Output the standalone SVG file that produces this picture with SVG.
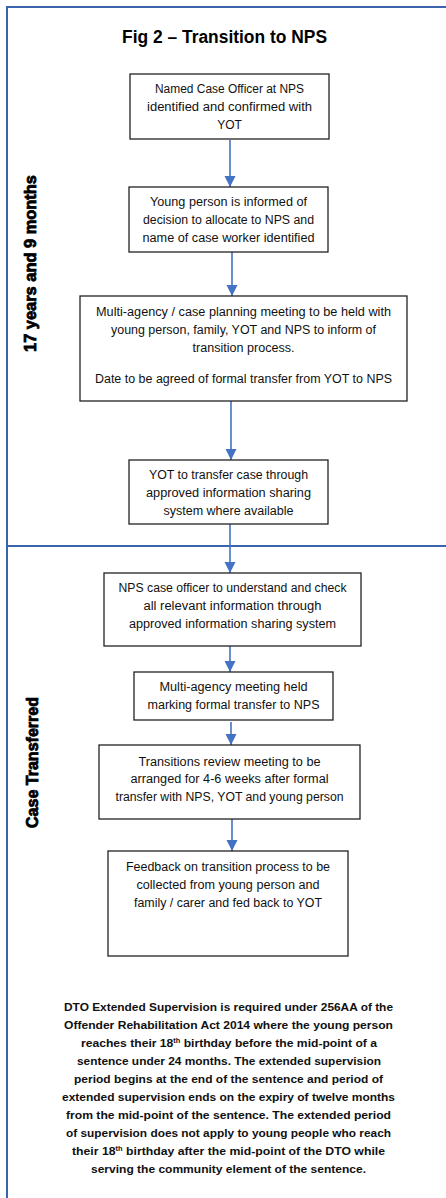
<svg xmlns="http://www.w3.org/2000/svg" width="446" height="1198" viewBox="0 0 446 1198">
<style>
.frame{stroke:#3B64AD;stroke-width:2;fill:none}
.box{fill:#fff;stroke:#222;stroke-width:1.3}
.t{font-family:"Liberation Sans",Arial,sans-serif;font-size:12px;fill:#111;text-anchor:middle}
.note{font-family:"Liberation Sans",Arial,sans-serif;font-size:11.5px;font-weight:bold;fill:#111;text-anchor:middle}
.title{font-family:"Liberation Sans",Arial,sans-serif;font-size:18px;font-weight:bold;fill:#000;text-anchor:middle}
.side{font-family:"Liberation Sans",Arial,sans-serif;font-size:17px;font-weight:bold;fill:#000;stroke:#000;stroke-width:0.8;text-anchor:middle}
.arr{stroke:#4472C4;stroke-width:1.6;fill:none;marker-end:url(#ah)}
</style>
<defs>
<marker id="ah" markerUnits="userSpaceOnUse" markerWidth="12" markerHeight="12" viewBox="0 0 12 12" refX="11" refY="6" orient="auto">
<path d="M0,0.5 L11,6 L0,11.5 Z" fill="#4472C4"/>
</marker>
</defs>
<rect width="446" height="1198" fill="#fff"/>
<g id="frame">
<path class="frame" d="M446,7 L7,7 L7,1198"/>
<path class="frame" d="M7,546 L446,546"/>
</g>
<g id="title"><text class="title" x="224.5" y="43" textLength="205" lengthAdjust="spacingAndGlyphs">Fig 2 – Transition to NPS</text></g>
<g id="label-17">
<text class="side" transform="translate(36,263.5) rotate(-90)" textLength="177" lengthAdjust="spacingAndGlyphs">17 years and 9 months</text>
</g>
<g id="label-case">
<text class="side" transform="translate(37.5,762.5) rotate(-90)" textLength="131" lengthAdjust="spacingAndGlyphs">Case Transferred</text>
</g>
<g id="connectors">
<line class="arr" x1="230" y1="140" x2="230" y2="187"/>
<line class="arr" x1="232" y1="252" x2="232" y2="296"/>
<line class="arr" x1="231" y1="401" x2="231" y2="460"/>
<line class="arr" x1="230" y1="524" x2="230" y2="573"/>
<line class="arr" x1="230" y1="646" x2="230" y2="672"/>
<line class="arr" x1="231" y1="722" x2="231" y2="745"/>
<line class="arr" x1="232" y1="819" x2="232" y2="851"/>
</g>
<g id="n1">
<rect class="box" x="130" y="74" width="199" height="65"/>
<text class="t" x="229.5" y="93" textLength="149" lengthAdjust="spacingAndGlyphs">Named Case Officer at NPS</text>
<text class="t" x="229.5" y="111" textLength="165" lengthAdjust="spacingAndGlyphs">identified and confirmed with</text>
<text class="t" x="229.5" y="129">YOT</text>
</g>
<g id="n2">
<rect class="box" x="129" y="187" width="199" height="65"/>
<text class="t" x="228.5" y="206" textLength="157" lengthAdjust="spacingAndGlyphs">Young person is informed of</text>
<text class="t" x="228.5" y="224" textLength="171" lengthAdjust="spacingAndGlyphs">decision to allocate to NPS and</text>
<text class="t" x="228.5" y="242" textLength="172" lengthAdjust="spacingAndGlyphs">name of case worker identified</text>
</g>
<g id="n3">
<rect class="box" x="80" y="296" width="327" height="105"/>
<text class="t" x="243.5" y="316" textLength="295" lengthAdjust="spacingAndGlyphs">Multi-agency / case planning meeting to be held with</text>
<text class="t" x="243.5" y="334" textLength="265" lengthAdjust="spacingAndGlyphs">young person, family, YOT and NPS to inform of</text>
<text class="t" x="243.5" y="352" textLength="102" lengthAdjust="spacingAndGlyphs">transition process.</text>
<text class="t" x="243.5" y="383" textLength="297" lengthAdjust="spacingAndGlyphs">Date to be agreed of formal transfer from YOT to NPS</text>
</g>
<g id="n4">
<rect class="box" x="129" y="460" width="199" height="64"/>
<text class="t" x="228.5" y="479" textLength="159" lengthAdjust="spacingAndGlyphs">YOT to transfer case through</text>
<text class="t" x="228.5" y="497" textLength="165" lengthAdjust="spacingAndGlyphs">approved information sharing</text>
<text class="t" x="228.5" y="515" textLength="130" lengthAdjust="spacingAndGlyphs">system where available</text>
</g>
<g id="n5">
<rect class="box" x="104" y="573" width="257" height="73"/>
<text class="t" x="232.5" y="592" textLength="228" lengthAdjust="spacingAndGlyphs">NPS case officer to understand and check</text>
<text class="t" x="232.5" y="610" textLength="178" lengthAdjust="spacingAndGlyphs">all relevant information through</text>
<text class="t" x="232.5" y="628" textLength="207" lengthAdjust="spacingAndGlyphs">approved information sharing system</text>
</g>
<g id="n6">
<rect class="box" x="134" y="672" width="199" height="48"/>
<text class="t" x="233.5" y="691" textLength="148" lengthAdjust="spacingAndGlyphs">Multi-agency meeting held</text>
<text class="t" x="233.5" y="709" textLength="172" lengthAdjust="spacingAndGlyphs">marking formal transfer to NPS</text>
</g>
<g id="n7">
<rect class="box" x="99" y="745" width="261" height="74"/>
<text class="t" x="229.5" y="766" textLength="182" lengthAdjust="spacingAndGlyphs">Transitions review meeting to be</text>
<text class="t" x="229.5" y="783" textLength="198" lengthAdjust="spacingAndGlyphs">arranged for 4-6 weeks after formal</text>
<text class="t" x="229.5" y="801" textLength="228" lengthAdjust="spacingAndGlyphs">transfer with NPS, YOT and young person</text>
</g>
<g id="n8">
<rect class="box" x="108" y="851" width="240" height="105"/>
<text class="t" x="228" y="871" textLength="204" lengthAdjust="spacingAndGlyphs">Feedback on transition process to be</text>
<text class="t" x="228" y="889" textLength="183" lengthAdjust="spacingAndGlyphs">collected from young person and</text>
<text class="t" x="228" y="907" textLength="188" lengthAdjust="spacingAndGlyphs">family / carer and fed back to YOT</text>
</g>
<g id="note">
<text class="note" x="228.5" y="1011" textLength="329" lengthAdjust="spacingAndGlyphs">DTO Extended Supervision is required under 256AA of the</text>
<text class="note" x="228.5" y="1029" textLength="329" lengthAdjust="spacingAndGlyphs">Offender Rehabilitation Act 2014 where the young person</text>
<text class="note" x="229" y="1047" textLength="296" lengthAdjust="spacingAndGlyphs">reaches their 18<tspan font-size="7" dy="-4">th</tspan><tspan dy="4"> birthday before the mid-point of a</tspan></text>
<text class="note" x="229" y="1065" textLength="304" lengthAdjust="spacingAndGlyphs">sentence under 24 months. The extended supervision</text>
<text class="note" x="228.5" y="1083" textLength="309" lengthAdjust="spacingAndGlyphs">period begins at the end of the sentence and period of</text>
<text class="note" x="228.5" y="1101" textLength="333" lengthAdjust="spacingAndGlyphs">extended supervision ends on the expiry of twelve months</text>
<text class="note" x="228.5" y="1119" textLength="325" lengthAdjust="spacingAndGlyphs">from the mid-point of the sentence. The extended period</text>
<text class="note" x="228.5" y="1137" textLength="325" lengthAdjust="spacingAndGlyphs">of supervision does not apply to young people who reach</text>
<text class="note" x="228.5" y="1155" textLength="313" lengthAdjust="spacingAndGlyphs">their 18<tspan font-size="7" dy="-4">th</tspan><tspan dy="4"> birthday after the mid-point of the DTO while</tspan></text>
<text class="note" x="228.5" y="1173" textLength="275" lengthAdjust="spacingAndGlyphs">serving the community element of the sentence.</text>
</g>
</svg>
